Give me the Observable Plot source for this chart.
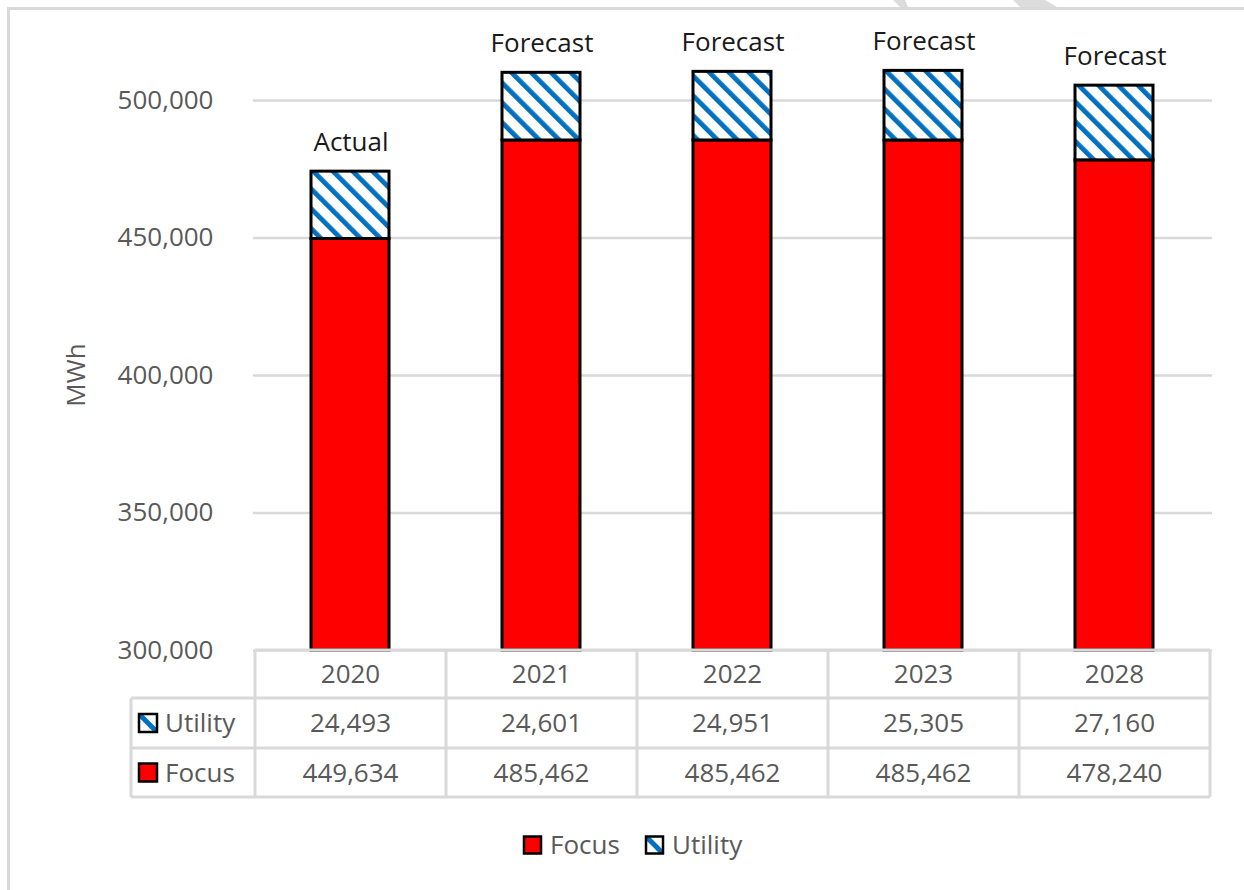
<!DOCTYPE html>
<html>
<head>
<meta charset="utf-8">
<script src="https://cdn.jsdelivr.net/npm/d3@7"></script>
<script src="https://cdn.jsdelivr.net/npm/@observablehq/plot@0.6"></script>
<style>
  html, body { margin: 0; padding: 0; background: #fff; }
  #wrap { position: relative; width: 1244px; height: 890px; overflow: hidden; background: #fff; font-family: "Open Sans", sans-serif; }
  #frame { position: absolute; left: 7px; top: 7px; width: 1400px; height: 1000px; border: 3px solid #d9d9d9; box-sizing: border-box; }
  #wrap svg { position: absolute; left: 0; top: 0; }
</style>
</head>
<body>
<div id="wrap"><div id="frame"></div></div>
<script>
// ---- data ----
const years = ["2020", "2021", "2022", "2023", "2028"];
const focus = [449634, 485462, 485462, 485462, 478240];
const utility = [24493, 24601, 24951, 25305, 27160];
const status = ["Actual", "Forecast", "Forecast", "Forecast", "Forecast"];
const yTicks = [300000, 350000, 400000, 450000, 500000];
const seriesNames = ["Focus", "Utility"];
const yLabel = "MWh";

const RED = "#ff0000", BLUE = "#0070c0", GRID = "#d9d9d9", GRAY = "#595959";
const FS = 26;

const focusRows = years.map((y, i) => ({year: y, value: focus[i]}));
const utilRows = years.map((y, i) => ({year: y, base: focus[i], top: focus[i] + utility[i]}));
const fmt = d3.format(",");

const chart = Plot.plot({
  width: 1244, height: 652,
  marginLeft: 253, marginRight: 32, marginTop: 45, marginBottom: 2,
  style: {fontFamily: "'Open Sans', sans-serif", fontSize: FS + "px", background: "transparent", overflow: "visible"},
  x: {type: "band", domain: years, padding: 0, axis: null},
  y: {domain: [300000, 520000], clamp: true, axis: null},
  marks: [
    Plot.ruleY(yTicks, {stroke: GRID, strokeWidth: 2.5}),
    Plot.axisY(yTicks, {tickSize: 0, tickPadding: 40, tickFormat: fmt, fill: GRAY, fontSize: FS, label: null}),
    Plot.barY(focusRows, {x: "year", y: "value", fill: RED, stroke: "#000", strokeWidth: 3, insetLeft: 56, insetRight: 57}),
    Plot.barY(utilRows, {x: "year", y1: "base", y2: "top", fill: "url(#hatch)", stroke: "#000", strokeWidth: 3, insetLeft: 56, insetRight: 57}),
    Plot.text(utilRows, {x: "year", y: "top", text: (d, i) => status[i], dy: -29, fill: "#1a1a1a", fontSize: FS})
  ]
});
document.getElementById("wrap").appendChild(chart);

// hatch pattern
const defs = d3.select(chart).insert("defs", ":first-child");
const pat = defs.append("pattern").attr("id", "hatch").attr("patternUnits", "userSpaceOnUse")
  .attr("width", 14).attr("height", 14).attr("patternTransform", "rotate(-45)");
pat.append("rect").attr("width", 14).attr("height", 14).attr("fill", "#fff");
pat.append("rect").attr("x", 0).attr("width", 4.8).attr("height", 14).attr("fill", BLUE);

// ---- overlay: y label, data table, legend ----
const xs = chart.scale("x");
const bw = xs.bandwidth;
const colL = years.map(y => xs.apply(y));
const left0 = colL[0], right0 = colL[colL.length - 1] + bw;
const tableLeft = 131;
const rowsY = [650, 698, 748, 797];

const svg = d3.select("#wrap").append("svg").attr("width", 1244).attr("height", 890)
  .style("font-family", "'Open Sans', sans-serif").style("font-size", FS + "px");

// faint watermark fragments at the top edge
svg.append("polygon").attr("points", "893,0 905,0 908,7 900,7").attr("fill", "#dcdcdc");
svg.append("polygon").attr("points", "1013,0 1045,0 1057,7 1020,7").attr("fill", "#dcdcdc");

svg.append("text").attr("transform", "translate(76,375) rotate(-90)")
  .attr("text-anchor", "middle").attr("dy", "0.35em").attr("fill", GRAY).text(yLabel);

const lines = svg.append("g").attr("stroke", GRID).attr("stroke-width", 3);
lines.append("line").attr("x1", left0).attr("x2", right0).attr("y1", rowsY[0]).attr("y2", rowsY[0]);
for (let r = 1; r < rowsY.length; r++)
  lines.append("line").attr("x1", tableLeft).attr("x2", right0).attr("y1", rowsY[r]).attr("y2", rowsY[r]);
lines.append("line").attr("x1", tableLeft).attr("x2", tableLeft).attr("y1", rowsY[1]).attr("y2", rowsY[3]);
[...colL, right0].forEach(x => lines.append("line").attr("x1", x).attr("x2", x).attr("y1", rowsY[0]).attr("y2", rowsY[3]));

const rowMid = r => (rowsY[r] + rowsY[r + 1]) / 2;
const tableRows = [years, utility.map(fmt), focus.map(fmt)];
tableRows.forEach((vals, r) => {
  vals.forEach((v, i) => {
    svg.append("text").attr("x", colL[i] + bw / 2).attr("y", rowMid(r)).attr("dy", "0.35em")
      .attr("text-anchor", "middle").attr("fill", GRAY).text(v);
  });
});

const sdefs = svg.append("defs");
function swatch(g, name, x, y, s) {
  if (name === "Focus") {
    g.append("rect").attr("x", x).attr("y", y).attr("width", s).attr("height", s)
      .attr("fill", RED).attr("stroke", "#000").attr("stroke-width", 2.5);
  } else {
    const id = "clip" + Math.round(x) + "_" + Math.round(y);
    sdefs.append("clipPath").attr("id", id).append("rect").attr("x", x).attr("y", y).attr("width", s).attr("height", s);
    g.append("rect").attr("x", x).attr("y", y).attr("width", s).attr("height", s).attr("fill", "#fff");
    g.append("line").attr("x1", x).attr("y1", y).attr("x2", x + s).attr("y2", y + s)
      .attr("stroke", BLUE).attr("stroke-width", 5).attr("clip-path", `url(#${id})`);
    g.append("rect").attr("x", x).attr("y", y).attr("width", s).attr("height", s)
      .attr("fill", "none").attr("stroke", "#000").attr("stroke-width", 2.5);
  }
}
// row labels
[["Utility", 1], ["Focus", 2]].forEach(([name, r]) => {
  const cy = rowMid(r);
  swatch(svg, name, 139, cy - 9, 18);
  svg.append("text").attr("x", 165).attr("y", cy).attr("dy", "0.35em").attr("fill", GRAY).text(name);
});

// legend
const legY = 845;
const legX = [524, 646];
seriesNames.forEach((name, i) => {
  swatch(svg, name, legX[i], legY - 8.5, 17);
  svg.append("text").attr("x", legX[i] + 26).attr("y", legY).attr("dy", "0.35em").attr("fill", GRAY).text(name);
});
</script>
</body>
</html>
